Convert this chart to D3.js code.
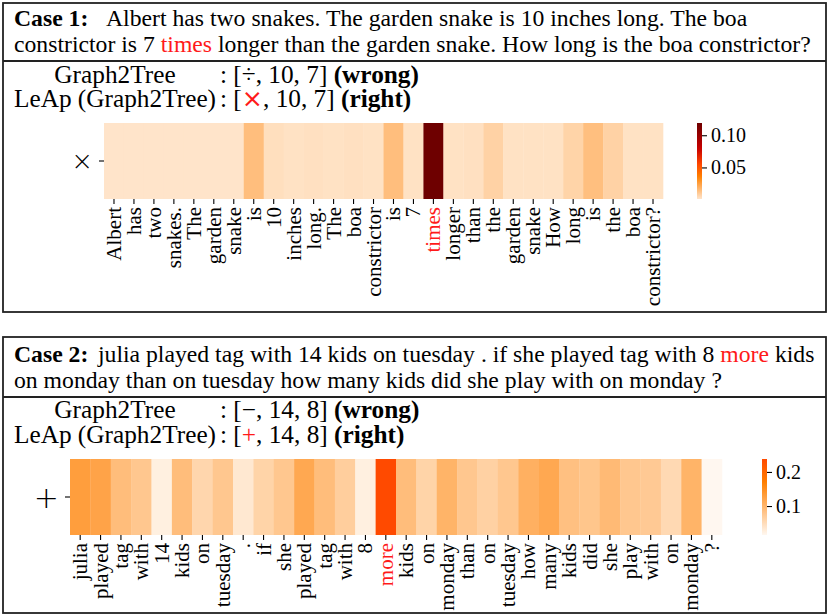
<!DOCTYPE html>
<html><head><meta charset="utf-8">
<script src="https://cdn.jsdelivr.net/npm/d3@7"></script>
<style>
body{margin:0;background:#fff;}
svg{display:block;font-family:"Liberation Serif","Times New Roman",serif;}
</style></head>
<body><svg id="c" width="830" height="616"></svg>
<script>
// ---------------- data ----------------
const case1Tokens = ["Albert","has","two","snakes.","The","garden","snake","is","10","inches","long.","The","boa","constrictor","is","7","times","longer","than","the","garden","snake","How","long","is","the","boa","constrictor?"];
const case1Weights = [0.001,0.001,0.001,0.001,0.001,0.001,0.001,0.0142,0.003,0.002,0.0025,0.002,0.0025,0.002,0.0142,0.002,0.119,0.002,0.0025,0.0074,0.002,0.002,0.002,0.0068,0.0138,0.0074,0.002,0.002];
const case1Highlight = "times";
const case1RowLabel = "×";
const case1CbarTicks = [0.05, 0.10];
const case1CbarTickLabels = ["0.05","0.10"];

const case2Tokens = ["julia","played","tag","with","14","kids","on","tuesday",".","if","she","played","tag","with","8","more","kids","on","monday","than","on","tuesday","how","many","kids","did","she","play","with","on","monday","?"];
const case2Weights = [0.130,0.123,0.090,0.077,0.025,0.090,0.058,0.077,0.035,0.061,0.077,0.117,0.090,0.068,0.025,0.238,0.090,0.061,0.102,0.077,0.064,0.077,0.107,0.117,0.086,0.079,0.094,0.077,0.074,0.054,0.102,0.015];
const case2Highlight = "more";
const case2RowLabel = "+";
const case2CbarTicks = [0.1, 0.2];
const case2CbarTickLabels = ["0.1","0.2"];

// ---------------- colour map (heat, reversed segment) ----------------
function heat(x){
  const c = v => Math.max(0, Math.min(1, v));
  const r = c(x/0.64), g = c(2*x-1), b = c(4*x-3);
  return d3.rgb(r*255, g*255, b*255).formatHex();
}
function makeColor(extent, xHi, xLo){
  const s = d3.scaleLinear().domain(extent).range([xHi, xLo]).clamp(true);
  return v => heat(s(v));
}

const svg = d3.select("#c");
const RED = "#ff1a1a";
const HEAD = 23.7, PRED = 25.3;

function fit(sel, x0, x1){
  const w = sel.node().getBBox().width;
  if (w <= x1 - x0) return;
  const sx = (x1 - x0) / w;
  sel.attr("transform", `translate(${x0},0) scale(${sx},1) translate(${-x0},0)`);
}

function drawCase(o){
  const g = svg.append("g");
  g.append("rect").attr("x",o.box[0]).attr("y",o.box[1]).attr("width",o.box[2]-o.box[0]).attr("height",o.box[3]-o.box[1])
    .attr("fill","none").attr("stroke","#222").attr("stroke-width",1.8);
  g.append("line").attr("x1",o.box[0]).attr("x2",o.box[2]).attr("y1",o.sep).attr("y2",o.sep)
    .attr("stroke","#222").attr("stroke-width",1.8);

  // header text
  g.append("text").attr("x",14).attr("y",o.line1y).attr("font-size",HEAD).attr("font-weight","bold").text(o.caseLabel);
  const t1 = g.append("text").attr("x",o.textX).attr("y",o.line1y).attr("font-size",HEAD);
  o.line1.forEach(p=> t1.append("tspan").attr("fill",p.red?RED:"#000").text(p.t));
  fit(t1, o.textX, o.line1End);
  const t2 = g.append("text").attr("x",14).attr("y",o.line2y).attr("font-size",HEAD);
  o.line2.forEach(p=> t2.append("tspan").attr("fill",p.red?RED:"#000").text(p.t));
  fit(t2, 14, 812);

  // prediction lines
  o.preds.forEach((p,i)=>{
    const y = o.predY[i];
    g.append("text").attr("x",115).attr("y",y).attr("font-size",PRED).attr("text-anchor","middle").text(p.model);
    const t = g.append("text").attr("x",220).attr("y",y).attr("font-size",PRED);
    t.append("tspan").text(": [");
    t.append("tspan").attr("fill",p.red?RED:"#000").attr("font-family",p.opFont||null).text(p.op);
    t.append("tspan").text(p.rest);
    t.append("tspan").attr("font-weight","bold").text(p.verdict);
  });

  // heatmap
  const n = o.tokens.length;
  const x = d3.scaleBand().domain(d3.range(n)).range(o.hx).paddingInner(0);
  const y = d3.scaleBand().domain([o.rowLabel]).range(o.hy);
  const ext = d3.extent(o.weights);
  const color = makeColor(ext, o.xHi, o.xLo);
  g.append("g").selectAll("rect").data(o.weights).join("rect")
    .attr("x",(d,i)=>x(i)).attr("y",y(o.rowLabel)).attr("width",x.bandwidth()+0.3).attr("height",y.bandwidth())
    .attr("fill",d=>color(d));

  const ax = g.append("g").attr("transform",`translate(0,${o.hy[1]})`)
    .call(d3.axisBottom(x).tickSize(5).tickPadding(4).tickFormat(i=>o.tokens[i]));
  ax.select(".domain").remove();
  ax.selectAll(".tick line").attr("stroke","#000").attr("stroke-width",1.1);
  ax.selectAll(".tick text").attr("font-size",21).attr("font-family","Liberation Serif, serif")
    .attr("fill",(i)=>o.tokens[i]===o.highlight?RED:"#000")
    .attr("text-anchor","end").attr("dy",null).attr("y",0)
    .attr("transform","translate(0,8) rotate(-90)").attr("dominant-baseline","central");

  const ay = g.append("g").attr("transform",`translate(${o.hx[0]},0)`)
    .call(d3.axisLeft(y).tickSize(5).tickPadding(6));
  ay.select(".domain").remove();
  ay.selectAll(".tick line").attr("stroke","#000").attr("stroke-width",1.1);
  ay.selectAll(".tick text").attr("font-size",o.rowFont).attr("font-family","DejaVu Sans, sans-serif").attr("font-weight",200).attr("dy","0.36em");

  // colour bar
  const gid = "grad"+o.caseLabel.replace(/\W/g,"");
  const grad = svg.append("defs").append("linearGradient").attr("id",gid)
    .attr("x1",0).attr("x2",0).attr("y1",1).attr("y2",0);
  d3.range(0,1.0001,0.05).forEach(t=>{
    grad.append("stop").attr("offset",t).attr("stop-color",color(ext[0]+t*(ext[1]-ext[0])));
  });
  g.append("rect").attr("x",o.cb[0]).attr("width",o.cb[1]-o.cb[0]).attr("y",o.hy[0]).attr("height",o.hy[1]-o.hy[0])
    .attr("fill",`url(#${gid})`);
  const cs = d3.scaleLinear().domain(ext).range([o.hy[1], o.hy[0]]);
  const ac = g.append("g").attr("transform",`translate(${o.cb[1]},0)`)
    .call(d3.axisRight(cs).tickValues(o.cbTicks).tickSize(5).tickPadding(4).tickFormat((d,i)=>o.cbLabels[i]));
  ac.select(".domain").remove();
  ac.selectAll(".tick line").attr("stroke","#000").attr("stroke-width",1.1);
  ac.selectAll(".tick text").attr("font-size",20).attr("font-family","Liberation Serif, serif");
}

drawCase({
  box:[3,3,826,312], sep:61, caseLabel:"Case 1:", textX:106, line1End:750,
  line1y:26, line2y:52,
  line1:[{t:"Albert has two snakes. The garden snake is 10 inches long. The boa"}],
  line2:[{t:"constrictor is 7 "},{t:"times",red:true},{t:" longer than the garden snake. How long is the boa constrictor?"}],
  predY:[83,107],
  preds:[{model:"Graph2Tree",op:"÷",rest:", 10, 7] ",verdict:"(wrong)"},
         {model:"LeAp (Graph2Tree)",op:"×",red:true,opFont:"DejaVu Sans, sans-serif",rest:", 10, 7] ",verdict:"(right)"}],
  tokens:case1Tokens, weights:case1Weights, highlight:case1Highlight, rowLabel:case1RowLabel, rowFont:26,
  hx:[104,663], hy:[123,199], xHi:0.948, xLo:0.275,
  cb:[697,702], cbTicks:case1CbarTicks, cbLabels:case1CbarTickLabels
});

drawCase({
  box:[3,337,826,613], sep:397, caseLabel:"Case 2:", textX:98, line1End:818,
  line1y:362, line2y:388,
  line1:[{t:"julia played tag with 14 kids on tuesday . if she played tag with 8 "},{t:"more",red:true},{t:" kids"}],
  line2:[{t:"on monday than on tuesday how many kids did she play with on monday ?"}],
  predY:[418,443],
  preds:[{model:"Graph2Tree",op:"−",rest:", 14, 8] ",verdict:"(wrong)"},
         {model:"LeAp (Graph2Tree)",op:"+",red:true,rest:", 14, 8] ",verdict:"(right)"}],
  tokens:case2Tokens, weights:case2Weights, highlight:case2Highlight, rowLabel:case2RowLabel, rowFont:30,
  hx:[70,722], hy:[459,535], xHi:0.985, xLo:0.645,
  cb:[762,767], cbTicks:case2CbarTicks, cbLabels:case2CbarTickLabels
});
</script></body></html>
